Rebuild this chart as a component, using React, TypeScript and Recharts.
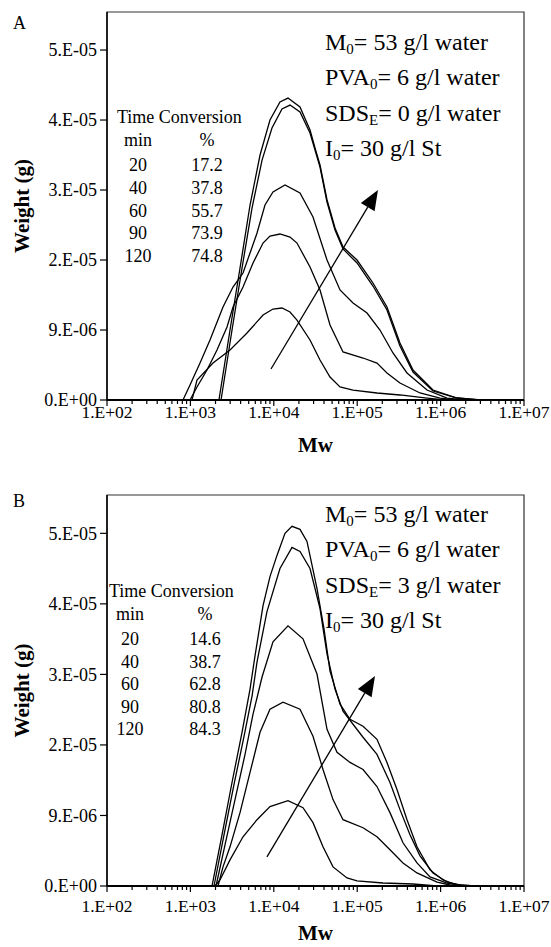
import { LineChart, Line, XAxis, YAxis, ReferenceLine, ReferenceArea } from "recharts"

type Pt = [number, number]

// panel A: SDS_E = 0 g/l water  (Mw, weight g)
const a20: Pt[] = [[1045, 0], [1200, 2.63e-6], [1866, 4.86e-6], [2985, 6.57e-6], [4773, 8.81e-6], [7430, 1.117e-5], [9780, 1.196e-5], [12540, 1.209e-5], [15640, 1.157e-5], [18970, 1.051e-5], [27180, 7.89e-6], [35810, 5.26e-6], [47200, 3.02e-6], [62230, 1.71e-6], [89130, 1.31e-6], [172600, 9.2e-7], [325800, 6.6e-7], [687100, 2.6e-7], [1130000, 0]]
const a40: Pt[] = [[989, 0], [1200, 1.71e-6], [1581, 3.94e-6], [2084, 6.57e-6], [2748, 9.59e-6], [3243, 1.222e-5], [4274, 1.485e-5], [5636, 1.801e-5], [7430, 2.063e-5], [9000, 2.155e-5], [11860, 2.182e-5], [15640, 2.142e-5], [18970, 2.063e-5], [27180, 1.748e-5], [35810, 1.446e-5], [47200, 9.86e-6], [67610, 6.31e-6], [117500, 5.52e-6], [172600, 4.86e-6], [227500, 3.55e-6], [325800, 2.23e-6], [566200, 9.2e-7], [984000, 2.6e-7], [1489000, 0]]
const a60: Pt[] = [[815, 0], [989, 1.97e-6], [1304, 4.86e-6], [1718, 7.89e-6], [2460, 1.222e-5], [3243, 1.485e-5], [4274, 1.669e-5], [6295, 2.195e-5], [7840, 2.563e-5], [9780, 2.734e-5], [13620, 2.826e-5], [20610, 2.721e-5], [29510, 2.405e-5], [43450, 1.84e-5], [62230, 1.446e-5], [89130, 1.275e-5], [131200, 1.143e-5], [187500, 9.2e-6], [268500, 6.18e-6], [395400, 3.55e-6], [687100, 1.31e-6], [1194000, 2.6e-7], [1963000, 0]]
const a90: Pt[] = [[2330, 0], [3155, 9.2e-6], [4160, 1.735e-5], [5480, 2.523e-5], [7230, 3.154e-5], [9510, 3.575e-5], [12540, 3.825e-5], [15640, 3.877e-5], [20610, 3.785e-5], [27180, 3.509e-5], [35810, 3.062e-5], [43450, 2.602e-5], [54200, 2.234e-5], [67610, 1.985e-5], [99540, 1.801e-5], [154600, 1.498e-5], [227500, 1.183e-5], [325800, 7.1e-6], [466600, 3.68e-6], [810900, 1.18e-6], [1574000, 2.6e-7], [2970000, 0]]
const a120: Pt[] = [[2200, 0], [2985, 9.2e-6], [3935, 1.735e-5], [5190, 2.563e-5], [6840, 3.22e-5], [9000, 3.68e-5], [11860, 3.917e-5], [14800, 3.969e-5], [20600, 3.851e-5], [27200, 3.549e-5], [31200, 3.312e-5], [35800, 3.089e-5], [43500, 2.629e-5], [54200, 2.261e-5], [67600, 2.011e-5], [99500, 1.84e-5], [154600, 1.538e-5], [227500, 1.222e-5], [325800, 7.49e-6], [466600, 3.94e-6], [810900, 1.31e-6], [1574000, 2.6e-7], [2970000, 0]]
const arrowA: Pt[] = [[9250, 4.07e-6], [177500, 2.76e-5]]

// panel B: SDS_E = 3 g/l water
const b20: Pt[] = [[1972, 0], [2264, 7.9e-7], [2985, 3.41e-6], [4274, 6.42e-6], [6295, 8.65e-6], [9000, 1.035e-5], [14800, 1.114e-5], [22390, 1.022e-5], [29510, 8.26e-6], [38900, 5.11e-6], [51290, 2.49e-6], [75510, 1.05e-6], [99540, 6.6e-7], [203700, 3.9e-7], [466600, 2.6e-7], [905800, 0]]
const b40: Pt[] = [[2143, 0], [2460, 2.49e-6], [2985, 5.11e-6], [3935, 9.57e-6], [5188, 1.481e-5], [6839, 2.005e-5], [9000, 2.306e-5], [12890, 2.398e-5], [20610, 2.306e-5], [29510, 1.953e-5], [38900, 1.52e-5], [51290, 1.127e-5], [67610, 8.65e-6], [117500, 7.6e-6], [172600, 6.42e-6], [247200, 4.72e-6], [354000, 3.01e-6], [521200, 1.7e-6], [905800, 5.2e-7], [1297000, 1.3e-7], [1963000, 0]]
const b60: Pt[] = [[2028, 0], [2600, 5.37e-6], [3427, 1.127e-5], [4519, 1.717e-5], [5636, 2.241e-5], [7228, 2.726e-5], [9780, 3.185e-5], [14800, 3.394e-5], [22390, 3.224e-5], [32960, 2.765e-5], [43450, 2.044e-5], [57280, 1.743e-5], [82040, 1.612e-5], [117500, 1.52e-5], [172600, 1.297e-5], [247200, 9.57e-6], [354000, 5.64e-6], [521200, 3.01e-6], [746400, 1.18e-6], [1194000, 3.9e-7], [1963000, 0]]
const b90: Pt[] = [[1919, 0], [2529, 6.68e-6], [3334, 1.324e-5], [4395, 1.953e-5], [5483, 2.477e-5], [6295, 2.922e-5], [8280, 3.578e-5], [11860, 4.141e-5], [16530, 4.416e-5], [20610, 4.364e-5], [27180, 4.141e-5], [35810, 3.617e-5], [43450, 3.027e-5], [54200, 2.569e-5], [67610, 2.28e-5], [89130, 2.11e-5], [117500, 1.94e-5], [172600, 1.717e-5], [247200, 1.35e-5], [325800, 9.96e-6], [429500, 6.68e-6], [566200, 3.93e-6], [810900, 1.7e-6], [1194000, 5.2e-7], [1710000, 1.3e-7], [2582000, 0]]
const b120: Pt[] = [[1500, 0], [1816, 0], [2393, 6.68e-6], [3155, 1.35e-5], [4159, 2.005e-5], [5188, 2.569e-5], [5953, 3.001e-5], [7430, 3.656e-5], [9000, 4.036e-5], [10920, 4.312e-5], [13620, 4.6e-5], [16530, 4.692e-5], [20610, 4.652e-5], [25000, 4.495e-5], [32960, 3.879e-5], [39990, 3.355e-5], [47200, 2.804e-5], [62230, 2.372e-5], [82040, 2.175e-5], [117500, 2.084e-5], [172600, 1.913e-5], [227500, 1.612e-5], [299900, 1.258e-5], [395400, 8.65e-6], [521200, 5.11e-6], [746400, 2.1e-6], [1069000, 7.9e-7], [1574000, 1.3e-7], [2582000, 0]]
const arrowB: Pt[] = [[8280, 3.8e-6], [163400, 2.74e-5]]

// legend tables
const times = ["20", "40", "60", "90", "120"]
const convA = ["17.2", "37.8", "55.7", "73.9", "74.8"]
const convB = ["14.6", "38.7", "62.8", "80.8", "84.3"]

// axes
const xMajor = [1e2, 1e3, 1e4, 1e5, 1e6, 1e7]
const xTicks = [...xMajor.slice(0, -1).flatMap((d) => [1, 2, 3, 4, 5, 6, 7, 8, 9].map((k) => d * k)), 1e7]
const yTicks = [0, 9.2e-6, 1.84e-5, 2.76e-5, 3.68e-5, 4.6e-5]
const yMax = 5.1e-5

const FONT = "'Liberation Serif', 'Times New Roman', Tinos, 'DejaVu Serif', serif"

// excel style "0.E+00"
const sci = (v: number) => {
  const [m, e] = v.toExponential(0).split("e")
  const n = Number(e)
  return `${m}.E${n < 0 ? "-" : "+"}${String(Math.abs(n)).padStart(2, "0")}`
}

const toRows = (pts: Pt[]) => pts.map(([mw, w]) => ({ mw, w }))

function XTick({ x, y, payload, labelDy }: any) {
  const major = xMajor.includes(payload.value)
  return (
    <g>
      <line x1={x} x2={x} y1={y} y2={y + (major ? 6 : 4)} stroke="#000" strokeWidth={1.2} />
      {major && (
        <text x={x} y={y + labelDy} textAnchor="middle" fontSize={17.5} style={{ fontFamily: FONT }} fill="#000">
          {sci(payload.value)}
        </text>
      )}
    </g>
  )
}

function Arrow({ x1, y1, x2, y2 }: any) {
  const dx = x2 - x1
  const dy = y2 - y1
  const len = Math.hypot(dx, dy)
  const ux = dx / len
  const uy = dy / len
  const L = 20
  const H = 8
  const bx = x2 - ux * L
  const by = y2 - uy * L
  return (
    <g>
      <line x1={x1} y1={y1} x2={bx} y2={by} stroke="#000" strokeWidth={1.3} />
      <polygon
        points={`${x2},${y2} ${bx - uy * H},${by + ux * H} ${bx + uy * H},${by - ux * H}`}
        fill="#000"
      />
    </g>
  )
}

type PanelProps = {
  series: Pt[][]
  arrow: Pt[]
  height: number
  top: number
  xAxisHeight: number
  tickDy: number
  titleDy: number
}

function Panel({ series, arrow, height, top, xAxisHeight, tickDy, titleDy }: PanelProps) {
  return (
    <LineChart width={551} height={height} margin={{ top, right: 27, left: 0, bottom: 0 }} style={{ fontFamily: FONT }}>
      <XAxis
        dataKey="mw"
        type="number"
        scale="log"
        domain={[1e2, 1e7]}
        ticks={xTicks}
        interval={0}
        allowDataOverflow
        height={xAxisHeight}
        tickLine={false}
        tickSize={0}
        tickMargin={0}
        axisLine={{ stroke: "#000", strokeWidth: 2 }}
        tick={<XTick labelDy={tickDy} />}
        label={{
          content: (p: any) => (
            <text
              x={p.viewBox.x + p.viewBox.width / 2}
              y={p.viewBox.y + titleDy}
              textAnchor="middle"
              fontSize={21}
              fontWeight="bold"
              style={{ fontFamily: FONT }}
              fill="#000"
            >
              Mw
            </text>
          ),
        }}
      />
      <YAxis
        type="number"
        domain={[0, yMax]}
        ticks={yTicks}
        width={107}
        tickSize={7}
        tickMargin={3}
        tickFormatter={sci}
        tick={{ fontSize: 18, fill: "#000", style: { fontFamily: FONT } }}
        tickLine={{ stroke: "#000", strokeWidth: 1.2 }}
        axisLine={{ stroke: "#000", strokeWidth: 1.5 }}
        label={{
          content: (p: any) => {
            const cy = p.viewBox.y + p.viewBox.height / 2
            return (
              <text
                x={22}
                y={cy}
                transform={`rotate(-90 22 ${cy})`}
                textAnchor="middle"
                dominantBaseline="central"
                fontSize={21}
                fontWeight="bold"
                style={{ fontFamily: FONT }}
                fill="#000"
              >
                Weight (g)
              </text>
            )
          },
        }}
      />
      <ReferenceArea x1={1e2} x2={1e7} y1={0} y2={yMax} fill="none" stroke="#333" strokeWidth={1.2} />
      {series.map((s, i) => (
        <Line
          key={i}
          data={toRows(s)}
          dataKey="w"
          type="linear"
          stroke="#000"
          strokeWidth={1.3}
          dot={false}
          isAnimationActive={false}
        />
      ))}
      <ReferenceLine
        segment={[
          { x: arrow[0][0], y: arrow[0][1] },
          { x: arrow[1][0], y: arrow[1][1] },
        ]}
        shape={(p: any) => <Arrow {...p} />}
      />
    </LineChart>
  )
}

function Table({ conv, top, timeX, convX, rowStep }: { conv: string[]; top: number; timeX: number; convX: number; rowStep: number }) {
  const cell = (text: string, cx: number, cy: number) => (
    <div
      key={`${text}-${cx}-${cy}`}
      style={{ position: "absolute", left: cx - 50, width: 100, top: cy - 11, lineHeight: "22px", textAlign: "center", fontSize: 18 }}
    >
      {text}
    </div>
  )
  return (
    <>
      <div style={{ position: "absolute", left: timeX - 25, top: top - 11, lineHeight: "22px", fontSize: 18, whiteSpace: "nowrap" }}>
        Time Conversion
      </div>
      {cell("min", timeX - 4, top + 23)}
      {cell("%", convX, top + 23)}
      {times.map((t, i) => cell(t, timeX - 4, top + 48 + i * rowStep))}
      {conv.map((c, i) => cell(c, convX, top + 48 + i * rowStep))}
    </>
  )
}

function Conditions({ top, sds }: { top: number; sds: string }) {
  const sub = { fontSize: 15, verticalAlign: "-4px" }
  return (
    <div style={{ position: "absolute", left: 325, top, fontSize: 24, lineHeight: "28.3px", whiteSpace: "nowrap" }}>
      <div>M<span style={sub}>0</span>= 53 g/l water</div>
      <div>PVA<span style={sub}>0</span>= 6 g/l water</div>
      <div>SDS<span style={sub}>E</span>= {sds} g/l water</div>
      <div>I<span style={sub}>0</span>= 30 g/l St</div>
    </div>
  )
}

export default function App() {
  return (
    <div style={{ position: "absolute", left: 0, top: 0, width: 551, height: 947, background: "#fff", fontFamily: FONT, color: "#000" }}>
      <div style={{ position: "absolute", left: 0, top: 0 }}>
        <Panel series={[a20, a40, a60, a90, a120]} arrow={arrowA} height={470} top={12} xAxisHeight={70} tickDy={18} titleDy={52} />
      </div>
      <div style={{ position: "absolute", left: 0, top: 470 }}>
        <Panel series={[b20, b40, b60, b90, b120]} arrow={arrowB} height={477} top={25} xAxisHeight={61} tickDy={26} titleDy={54} />
      </div>
      <div style={{ position: "absolute", left: 13, top: 13, fontSize: 18 }}>A</div>
      <div style={{ position: "absolute", left: 13, top: 491, fontSize: 18 }}>B</div>
      <Table conv={convA} top={117} timeX={142} convX={207} rowStep={22.8} />
      <Table conv={convB} top={591} timeX={134} convX={205} rowStep={22.5} />
      <Conditions top={28} sds="0" />
      <Conditions top={500} sds="3" />
    </div>
  )
}
